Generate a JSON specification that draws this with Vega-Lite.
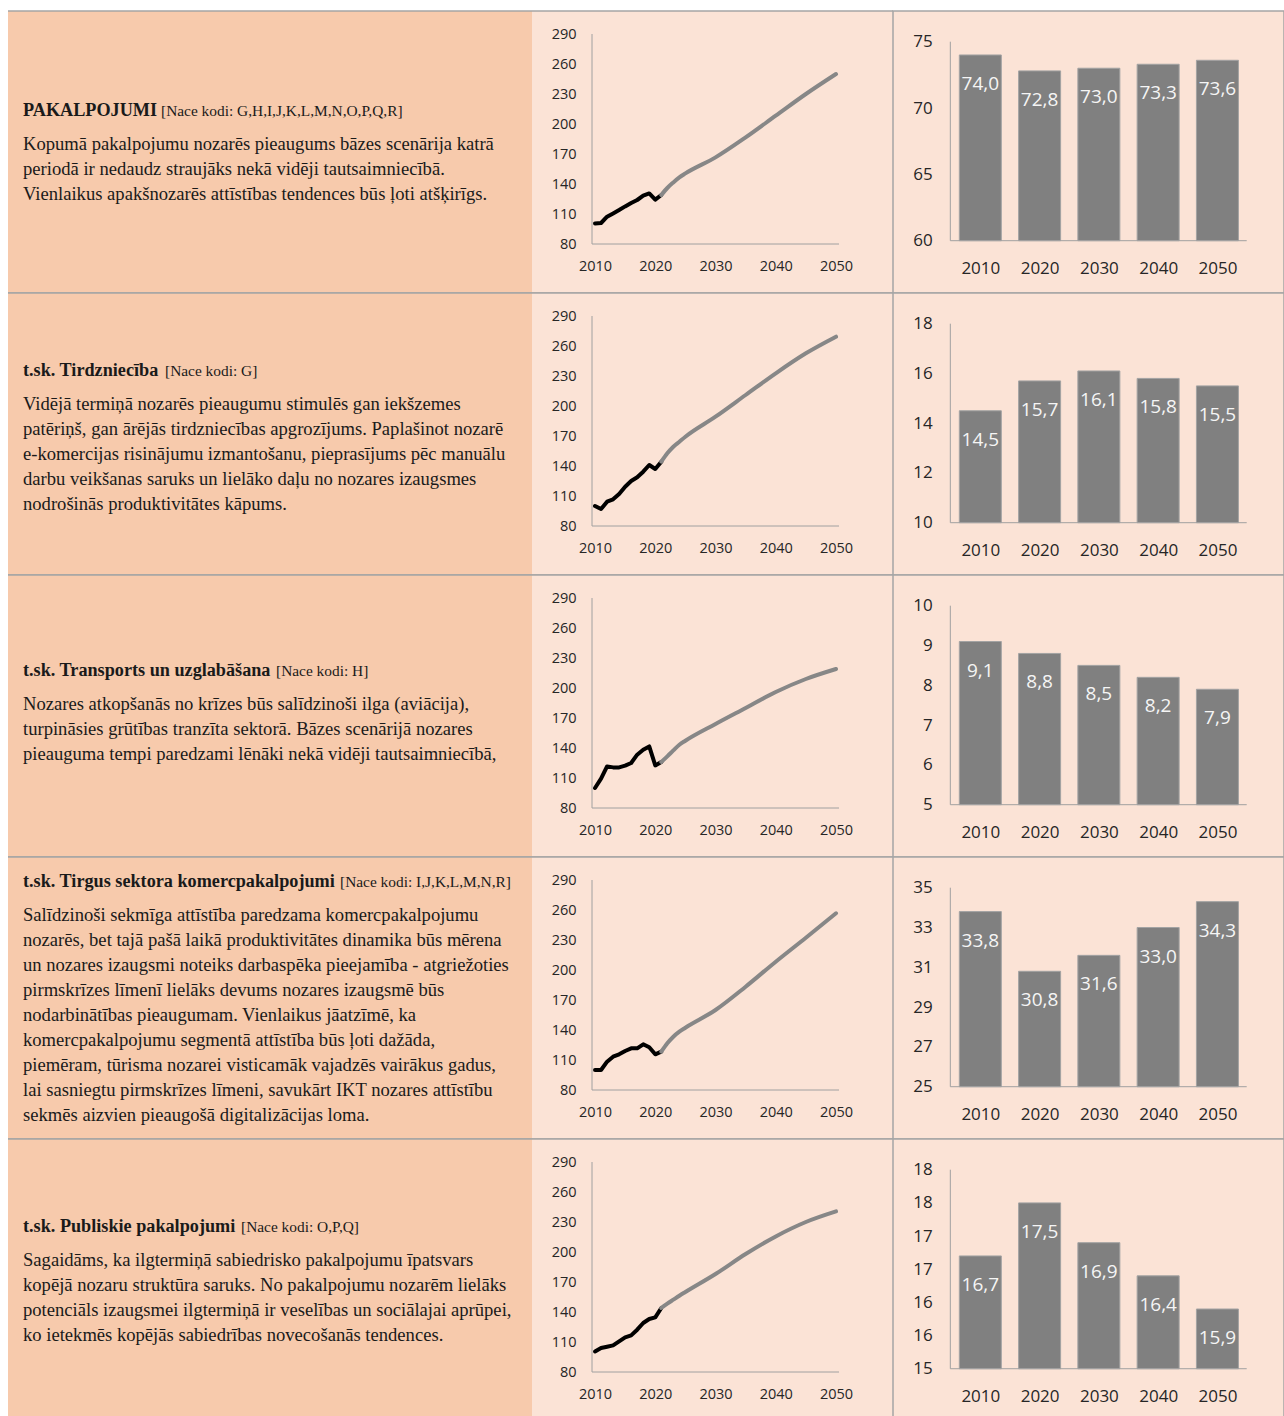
{
  "$schema": "https://vega.github.io/schema/vega-lite/v6.json",
  "padding": {"left": 7, "top": 10, "right": 0, "bottom": 0},
  "background": "white",
  "columns": 3,
  "spacing": 0,
  "bounds": "flush",
  "config": {
    "view": {"stroke": null},
    "concat": {"spacing": 0},
    "locale": {"number": {"decimal": ",", "thousands": "\u00a0", "grouping": [3], "currency": ["", " €"]}},
    "axis": {"labelFont": "Open Sans", "labelColor": "#262626", "grid": false, "domain": false, "ticks": false, "labelFlush": false, "labelOverlap": false}
  },
  "concat": [
    {
      "width": 524, "height": 282, "view": {"fill": "#F7CAAC"},
      "data": {"values": [
        {"line": 0, "part": "bold", "text": "PAKALPOJUMI"},
        {"line": 0, "part": "code", "text": "[Nace kodi: G,H,I,J,K,L,M,N,O,P,Q,R]"},
        {"line": 1, "part": "body", "text": "Kopumā pakalpojumu nozarēs pieaugums bāzes scenārija katrā"},
        {"line": 2, "part": "body", "text": "periodā ir nedaudz straujāks nekā vidēji tautsaimniecībā."},
        {"line": 3, "part": "body", "text": "Vienlaikus apakšnozarēs attīstības tendences būs ļoti atšķirīgs."}
      ]},
      "layer": [
        {"data": {"values": [{}]}, "mark": {"type": "rule", "color": "#A5A5A5", "strokeWidth": 1.5}, "encoding": {"y": {"datum": -4.56, "type": "quantitative", "scale": {"domain": [-4.56, 6.72], "reverse": true, "nice": false, "zero": false}, "axis": null}}},
        {"data": {"values": [{}]}, "mark": {"type": "rule", "color": "#A5A5A5", "strokeWidth": 1.5}, "encoding": {"y": {"datum": 6.72, "type": "quantitative", "axis": null}}},
        {"transform": [{"filter": "datum.part == 'bold'"}], "mark": {"type": "text", "font": "Liberation Serif", "fontWeight": "bold", "fontSize": 18.2, "align": "left", "baseline": "alphabetic", "dy": -9, "color": "#1a1a1a"}, "encoding": {"x": {"datum": 0, "type": "quantitative", "scale": {"domain": [-15, 509], "nice": false, "zero": false}, "axis": null}, "y": {"field": "line", "type": "quantitative", "axis": null}, "text": {"field": "text"}}},
        {"transform": [{"filter": "datum.part == 'code'"}], "mark": {"type": "text", "font": "Liberation Serif", "fontSize": 15.4, "align": "left", "baseline": "alphabetic", "dy": -9, "dx": 138, "color": "#1a1a1a"}, "encoding": {"x": {"datum": 0, "type": "quantitative", "axis": null}, "y": {"field": "line", "type": "quantitative", "axis": null}, "text": {"field": "text"}}},
        {"transform": [{"filter": "datum.part == 'body'"}], "mark": {"type": "text", "font": "Liberation Serif", "fontSize": 18.6, "align": "left", "baseline": "alphabetic", "color": "#1a1a1a"}, "encoding": {"x": {"datum": 0, "type": "quantitative", "axis": null}, "y": {"field": "line", "type": "quantitative", "axis": null}, "text": {"field": "text"}}}
      ]
    },
    {
      "width": 361, "height": 282, "view": {"fill": "#FBE3D6"},
      "data": {"values": [
        {"year": 2010, "value": 100.6, "s": "fakts"}, {"year": 2011, "value": 101, "s": "fakts"}, {"year": 2012, "value": 107.3, "s": "fakts"}, {"year": 2013, "value": 110.6, "s": "fakts"}, {"year": 2014, "value": 114, "s": "fakts"}, {"year": 2015, "value": 117.6, "s": "fakts"}, {"year": 2016, "value": 121, "s": "fakts"}, {"year": 2017, "value": 124, "s": "fakts"}, {"year": 2018, "value": 128.3, "s": "fakts"}, {"year": 2019, "value": 130.6, "s": "fakts"}, {"year": 2020, "value": 124.3, "s": "fakts"}, {"year": 2021, "value": 129, "s": "fakts"},
        {"year": 2021, "value": 129, "s": "prognoze"}, {"year": 2022, "value": 136, "s": "prognoze"}, {"year": 2023, "value": 141.6, "s": "prognoze"}, {"year": 2024, "value": 146.6, "s": "prognoze"}, {"year": 2025, "value": 150.6, "s": "prognoze"}, {"year": 2030, "value": 166.6, "s": "prognoze"}, {"year": 2035, "value": 186.6, "s": "prognoze"}, {"year": 2040, "value": 208.3, "s": "prognoze"}, {"year": 2045, "value": 230, "s": "prognoze"}, {"year": 2050, "value": 250, "s": "prognoze"}
      ]},
      "layer": [
        {"transform": [{"filter": "datum.s == 'fakts'"}], "mark": {"type": "line", "color": "#000000", "strokeWidth": 4, "strokeJoin": "round", "strokeCap": "round"},
         "encoding": {
           "x": {"field": "year", "type": "quantitative", "scale": {"domain": [1999.54, 2059.46], "nice": false, "zero": false, "padding": 0}, "axis": {"values": [2010, 2020, 2030, 2040, 2050], "format": "d", "offset": -49.5, "labelPadding": 15.5, "labelFontSize": 14.5, "title": null}},
           "y": {"field": "value", "type": "quantitative", "scale": {"domain": [31, 313], "nice": false, "zero": false, "padding": 0}, "axis": {"values": [80, 110, 140, 170, 200, 230, 260, 290], "offset": -60, "labelPadding": 16, "labelFontSize": 14.5, "title": null}}
         }},
        {"transform": [{"filter": "datum.s == 'prognoze'"}], "mark": {"type": "line", "color": "#878787", "strokeWidth": 4, "strokeCap": "round", "interpolate": "monotone"},
         "encoding": {"x": {"field": "year", "type": "quantitative"}, "y": {"field": "value", "type": "quantitative"}}},
        {"data": {"values": [{}]}, "mark": {"type": "rule", "color": "#A5A5A5", "strokeWidth": 1.5}, "encoding": {"y": {"datum": 313, "type": "quantitative"}}},
        {"data": {"values": [{}]}, "mark": {"type": "rule", "color": "#A5A5A5", "strokeWidth": 1.5}, "encoding": {"y": {"datum": 31, "type": "quantitative"}}},
        {"data": {"values": [{}]}, "mark": {"type": "rule", "color": "#A0A0A0", "strokeWidth": 1}, "encoding": {"x": {"datum": 2009.5, "type": "quantitative"}, "y": {"datum": 80, "type": "quantitative"}, "y2": {"datum": 290}}},
        {"data": {"values": [{}]}, "mark": {"type": "rule", "color": "#A0A0A0", "strokeWidth": 1}, "encoding": {"y": {"datum": 80, "type": "quantitative"}, "x": {"datum": 2009.5, "type": "quantitative"}, "x2": {"datum": 2050.5}}}
      ]
    },
    {
      "width": 391, "height": 282, "view": {"fill": "#FBE3D6", "stroke": "#A5A5A5", "strokeWidth": 1.5},
      "data": {"values": [{"year": 2010, "value": 74.0}, {"year": 2020, "value": 72.8}, {"year": 2030, "value": 73.0}, {"year": 2040, "value": 73.3}, {"year": 2050, "value": 73.6}]},
      "layer": [
        {"mark": {"type": "bar", "width": 42, "color": "#808080", "stroke": "#A3A3A3", "strokeWidth": 1},
         "encoding": {
           "x": {"field": "year", "type": "quantitative", "scale": {"domain": [1995.27, 2061.23], "nice": false, "zero": false, "padding": 0}, "axis": {"values": [2010, 2020, 2030, 2040, 2050], "format": "d", "offset": -52.3, "labelPadding": 20, "labelFontSize": 17, "title": null}},
           "y": {"field": "value", "type": "quantitative", "scale": {"domain": [56.058, 77.314], "nice": false, "zero": false, "padding": 0}, "axis": {"values": [60, 65, 70, 75], "offset": -57.3, "labelPadding": 18, "labelFontSize": 17, "title": null}},
           "y2": {"datum": 60}
         }},
        {"mark": {"type": "text", "font": "Open Sans", "fontSize": 19, "color": "#F5F5F5", "baseline": "middle", "dy": 29},
         "encoding": {"x": {"field": "year", "type": "quantitative"}, "y": {"field": "value", "type": "quantitative"}, "text": {"field": "value", "type": "quantitative", "format": ".1f"}}},
        {"data": {"values": [{}]}, "mark": {"type": "rule", "color": "#A0A0A0", "strokeWidth": 1}, "encoding": {"x": {"datum": 2004.94, "type": "quantitative"}, "y": {"datum": 60, "type": "quantitative"}, "y2": {"datum": 75}}},
        {"data": {"values": [{}]}, "mark": {"type": "rule", "color": "#A0A0A0", "strokeWidth": 1}, "encoding": {"y": {"datum": 60, "type": "quantitative"}, "x": {"datum": 2004.94, "type": "quantitative"}, "x2": {"datum": 2054.94}}}
      ]
    },
    {
      "width": 524, "height": 282, "view": {"fill": "#F7CAAC"},
      "data": {"values": [
        {"line": 0, "part": "bold", "text": "t.sk. Tirdzniecība"},
        {"line": 0, "part": "code", "text": "[Nace kodi: G]"},
        {"line": 1, "part": "body", "text": "Vidējā termiņā nozarēs pieaugumu stimulēs gan iekšzemes"},
        {"line": 2, "part": "body", "text": "patēriņš, gan ārējās tirdzniecības apgrozījums. Paplašinot nozarē"},
        {"line": 3, "part": "body", "text": "e-komercijas risinājumu izmantošanu, pieprasījums pēc manuālu"},
        {"line": 4, "part": "body", "text": "darbu veikšanas saruks un lielāko daļu no nozares izaugsmes"},
        {"line": 5, "part": "body", "text": "nodrošinās produktivitātes kāpums."}
      ]},
      "layer": [
        {"data": {"values": [{}]}, "mark": {"type": "rule", "color": "#A5A5A5", "strokeWidth": 1.5}, "encoding": {"y": {"datum": -3.68, "type": "quantitative", "scale": {"domain": [-3.68, 7.6], "reverse": true, "nice": false, "zero": false}, "axis": null}}},
        {"data": {"values": [{}]}, "mark": {"type": "rule", "color": "#A5A5A5", "strokeWidth": 1.5}, "encoding": {"y": {"datum": 7.6, "type": "quantitative", "axis": null}}},
        {"transform": [{"filter": "datum.part == 'bold'"}], "mark": {"type": "text", "font": "Liberation Serif", "fontWeight": "bold", "fontSize": 18.2, "align": "left", "baseline": "alphabetic", "dy": -9, "color": "#1a1a1a"}, "encoding": {"x": {"datum": 0, "type": "quantitative", "scale": {"domain": [-15, 509], "nice": false, "zero": false}, "axis": null}, "y": {"field": "line", "type": "quantitative", "axis": null}, "text": {"field": "text"}}},
        {"transform": [{"filter": "datum.part == 'code'"}], "mark": {"type": "text", "font": "Liberation Serif", "fontSize": 15.4, "align": "left", "baseline": "alphabetic", "dy": -9, "dx": 142, "color": "#1a1a1a"}, "encoding": {"x": {"datum": 0, "type": "quantitative", "axis": null}, "y": {"field": "line", "type": "quantitative", "axis": null}, "text": {"field": "text"}}},
        {"transform": [{"filter": "datum.part == 'body'"}], "mark": {"type": "text", "font": "Liberation Serif", "fontSize": 18.6, "align": "left", "baseline": "alphabetic", "color": "#1a1a1a"}, "encoding": {"x": {"datum": 0, "type": "quantitative", "axis": null}, "y": {"field": "line", "type": "quantitative", "axis": null}, "text": {"field": "text"}}}
      ]
    },
    {
      "width": 361, "height": 282, "view": {"fill": "#FBE3D6"},
      "data": {"values": [
        {"year": 2010, "value": 100, "s": "fakts"}, {"year": 2011, "value": 97, "s": "fakts"}, {"year": 2012, "value": 104.3, "s": "fakts"}, {"year": 2013, "value": 106.7, "s": "fakts"}, {"year": 2014, "value": 112, "s": "fakts"}, {"year": 2015, "value": 119.3, "s": "fakts"}, {"year": 2016, "value": 125, "s": "fakts"}, {"year": 2017, "value": 128.7, "s": "fakts"}, {"year": 2018, "value": 134.3, "s": "fakts"}, {"year": 2019, "value": 141, "s": "fakts"}, {"year": 2020, "value": 137, "s": "fakts"}, {"year": 2021, "value": 144.3, "s": "fakts"},
        {"year": 2021, "value": 144.3, "s": "prognoze"}, {"year": 2022, "value": 152.7, "s": "prognoze"}, {"year": 2023, "value": 159.3, "s": "prognoze"}, {"year": 2024, "value": 164.3, "s": "prognoze"}, {"year": 2025, "value": 169.3, "s": "prognoze"}, {"year": 2030, "value": 189.3, "s": "prognoze"}, {"year": 2035, "value": 211, "s": "prognoze"}, {"year": 2040, "value": 232.7, "s": "prognoze"}, {"year": 2045, "value": 252.7, "s": "prognoze"}, {"year": 2050, "value": 269.3, "s": "prognoze"}
      ]},
      "layer": [
        {"transform": [{"filter": "datum.s == 'fakts'"}], "mark": {"type": "line", "color": "#000000", "strokeWidth": 4, "strokeJoin": "round", "strokeCap": "round"},
         "encoding": {
           "x": {"field": "year", "type": "quantitative", "scale": {"domain": [1999.54, 2059.46], "nice": false, "zero": false, "padding": 0}, "axis": {"values": [2010, 2020, 2030, 2040, 2050], "format": "d", "offset": -49.5, "labelPadding": 15.5, "labelFontSize": 14.5, "title": null}},
           "y": {"field": "value", "type": "quantitative", "scale": {"domain": [31, 313], "nice": false, "zero": false, "padding": 0}, "axis": {"values": [80, 110, 140, 170, 200, 230, 260, 290], "offset": -60, "labelPadding": 16, "labelFontSize": 14.5, "title": null}}
         }},
        {"transform": [{"filter": "datum.s == 'prognoze'"}], "mark": {"type": "line", "color": "#878787", "strokeWidth": 4, "strokeCap": "round", "interpolate": "monotone"},
         "encoding": {"x": {"field": "year", "type": "quantitative"}, "y": {"field": "value", "type": "quantitative"}}},
        {"data": {"values": [{}]}, "mark": {"type": "rule", "color": "#A5A5A5", "strokeWidth": 1.5}, "encoding": {"y": {"datum": 313, "type": "quantitative"}}},
        {"data": {"values": [{}]}, "mark": {"type": "rule", "color": "#A5A5A5", "strokeWidth": 1.5}, "encoding": {"y": {"datum": 31, "type": "quantitative"}}},
        {"data": {"values": [{}]}, "mark": {"type": "rule", "color": "#A0A0A0", "strokeWidth": 1}, "encoding": {"x": {"datum": 2009.5, "type": "quantitative"}, "y": {"datum": 80, "type": "quantitative"}, "y2": {"datum": 290}}},
        {"data": {"values": [{}]}, "mark": {"type": "rule", "color": "#A0A0A0", "strokeWidth": 1}, "encoding": {"y": {"datum": 80, "type": "quantitative"}, "x": {"datum": 2009.5, "type": "quantitative"}, "x2": {"datum": 2050.5}}}
      ]
    },
    {
      "width": 391, "height": 282, "view": {"fill": "#FBE3D6", "stroke": "#A5A5A5", "strokeWidth": 1.5},
      "data": {"values": [{"year": 2010, "value": 14.5}, {"year": 2020, "value": 15.7}, {"year": 2030, "value": 16.1}, {"year": 2040, "value": 15.8}, {"year": 2050, "value": 15.5}]},
      "layer": [
        {"mark": {"type": "bar", "width": 42, "color": "#808080", "stroke": "#A3A3A3", "strokeWidth": 1},
         "encoding": {
           "x": {"field": "year", "type": "quantitative", "scale": {"domain": [1995.27, 2061.23], "nice": false, "zero": false, "padding": 0}, "axis": {"values": [2010, 2020, 2030, 2040, 2050], "format": "d", "offset": -52.3, "labelPadding": 20, "labelFontSize": 17, "title": null}},
           "y": {"field": "value", "type": "quantitative", "scale": {"domain": [7.897, 19.234], "nice": false, "zero": false, "padding": 0}, "axis": {"values": [10, 12, 14, 16, 18], "offset": -57.3, "labelPadding": 18, "labelFontSize": 17, "title": null}},
           "y2": {"datum": 10}
         }},
        {"mark": {"type": "text", "font": "Open Sans", "fontSize": 19, "color": "#F5F5F5", "baseline": "middle", "dy": 29},
         "encoding": {"x": {"field": "year", "type": "quantitative"}, "y": {"field": "value", "type": "quantitative"}, "text": {"field": "value", "type": "quantitative", "format": ".1f"}}},
        {"data": {"values": [{}]}, "mark": {"type": "rule", "color": "#A0A0A0", "strokeWidth": 1}, "encoding": {"x": {"datum": 2004.94, "type": "quantitative"}, "y": {"datum": 10, "type": "quantitative"}, "y2": {"datum": 18}}},
        {"data": {"values": [{}]}, "mark": {"type": "rule", "color": "#A0A0A0", "strokeWidth": 1}, "encoding": {"y": {"datum": 10, "type": "quantitative"}, "x": {"datum": 2004.94, "type": "quantitative"}, "x2": {"datum": 2054.94}}}
      ]
    },
    {
      "width": 524, "height": 282, "view": {"fill": "#F7CAAC"},
      "data": {"values": [
        {"line": 0, "part": "bold", "text": "t.sk. Transports un uzglabāšana"},
        {"line": 0, "part": "code", "text": "[Nace kodi: H]"},
        {"line": 1, "part": "body", "text": "Nozares atkopšanās no krīzes būs salīdzinoši ilga (aviācija),"},
        {"line": 2, "part": "body", "text": "turpināsies grūtības tranzīta sektorā. Bāzes scenārijā nozares"},
        {"line": 3, "part": "body", "text": "pieauguma tempi paredzami lēnāki nekā vidēji tautsaimniecībā,"}
      ]},
      "layer": [
        {"data": {"values": [{}]}, "mark": {"type": "rule", "color": "#A5A5A5", "strokeWidth": 1.5}, "encoding": {"y": {"datum": -4.412, "type": "quantitative", "scale": {"domain": [-4.412, 6.868], "reverse": true, "nice": false, "zero": false}, "axis": null}}},
        {"data": {"values": [{}]}, "mark": {"type": "rule", "color": "#A5A5A5", "strokeWidth": 1.5}, "encoding": {"y": {"datum": 6.868, "type": "quantitative", "axis": null}}},
        {"transform": [{"filter": "datum.part == 'bold'"}], "mark": {"type": "text", "font": "Liberation Serif", "fontWeight": "bold", "fontSize": 18.2, "align": "left", "baseline": "alphabetic", "dy": -9, "color": "#1a1a1a"}, "encoding": {"x": {"datum": 0, "type": "quantitative", "scale": {"domain": [-15, 509], "nice": false, "zero": false}, "axis": null}, "y": {"field": "line", "type": "quantitative", "axis": null}, "text": {"field": "text"}}},
        {"transform": [{"filter": "datum.part == 'code'"}], "mark": {"type": "text", "font": "Liberation Serif", "fontSize": 15.4, "align": "left", "baseline": "alphabetic", "dy": -9, "dx": 253, "color": "#1a1a1a"}, "encoding": {"x": {"datum": 0, "type": "quantitative", "axis": null}, "y": {"field": "line", "type": "quantitative", "axis": null}, "text": {"field": "text"}}},
        {"transform": [{"filter": "datum.part == 'body'"}], "mark": {"type": "text", "font": "Liberation Serif", "fontSize": 18.6, "align": "left", "baseline": "alphabetic", "color": "#1a1a1a"}, "encoding": {"x": {"datum": 0, "type": "quantitative", "axis": null}, "y": {"field": "line", "type": "quantitative", "axis": null}, "text": {"field": "text"}}}
      ]
    },
    {
      "width": 361, "height": 282, "view": {"fill": "#FBE3D6"},
      "data": {"values": [
        {"year": 2010, "value": 100, "s": "fakts"}, {"year": 2011, "value": 109.3, "s": "fakts"}, {"year": 2012, "value": 121.6, "s": "fakts"}, {"year": 2013, "value": 120.6, "s": "fakts"}, {"year": 2014, "value": 120.6, "s": "fakts"}, {"year": 2015, "value": 122.3, "s": "fakts"}, {"year": 2016, "value": 125, "s": "fakts"}, {"year": 2017, "value": 133.3, "s": "fakts"}, {"year": 2018, "value": 138.3, "s": "fakts"}, {"year": 2019, "value": 141.6, "s": "fakts"}, {"year": 2020, "value": 122.6, "s": "fakts"}, {"year": 2021, "value": 126, "s": "fakts"},
        {"year": 2021, "value": 126, "s": "prognoze"}, {"year": 2022, "value": 131.6, "s": "prognoze"}, {"year": 2023, "value": 137.6, "s": "prognoze"}, {"year": 2024, "value": 143.3, "s": "prognoze"}, {"year": 2025, "value": 147.3, "s": "prognoze"}, {"year": 2030, "value": 164, "s": "prognoze"}, {"year": 2035, "value": 180, "s": "prognoze"}, {"year": 2040, "value": 196, "s": "prognoze"}, {"year": 2045, "value": 209, "s": "prognoze"}, {"year": 2050, "value": 219, "s": "prognoze"}
      ]},
      "layer": [
        {"transform": [{"filter": "datum.s == 'fakts'"}], "mark": {"type": "line", "color": "#000000", "strokeWidth": 4, "strokeJoin": "round", "strokeCap": "round"},
         "encoding": {
           "x": {"field": "year", "type": "quantitative", "scale": {"domain": [1999.54, 2059.46], "nice": false, "zero": false, "padding": 0}, "axis": {"values": [2010, 2020, 2030, 2040, 2050], "format": "d", "offset": -49.5, "labelPadding": 15.5, "labelFontSize": 14.5, "title": null}},
           "y": {"field": "value", "type": "quantitative", "scale": {"domain": [31, 313], "nice": false, "zero": false, "padding": 0}, "axis": {"values": [80, 110, 140, 170, 200, 230, 260, 290], "offset": -60, "labelPadding": 16, "labelFontSize": 14.5, "title": null}}
         }},
        {"transform": [{"filter": "datum.s == 'prognoze'"}], "mark": {"type": "line", "color": "#878787", "strokeWidth": 4, "strokeCap": "round", "interpolate": "monotone"},
         "encoding": {"x": {"field": "year", "type": "quantitative"}, "y": {"field": "value", "type": "quantitative"}}},
        {"data": {"values": [{}]}, "mark": {"type": "rule", "color": "#A5A5A5", "strokeWidth": 1.5}, "encoding": {"y": {"datum": 313, "type": "quantitative"}}},
        {"data": {"values": [{}]}, "mark": {"type": "rule", "color": "#A5A5A5", "strokeWidth": 1.5}, "encoding": {"y": {"datum": 31, "type": "quantitative"}}},
        {"data": {"values": [{}]}, "mark": {"type": "rule", "color": "#A0A0A0", "strokeWidth": 1}, "encoding": {"x": {"datum": 2009.5, "type": "quantitative"}, "y": {"datum": 80, "type": "quantitative"}, "y2": {"datum": 290}}},
        {"data": {"values": [{}]}, "mark": {"type": "rule", "color": "#A0A0A0", "strokeWidth": 1}, "encoding": {"y": {"datum": 80, "type": "quantitative"}, "x": {"datum": 2009.5, "type": "quantitative"}, "x2": {"datum": 2050.5}}}
      ]
    },
    {
      "width": 391, "height": 282, "view": {"fill": "#FBE3D6", "stroke": "#A5A5A5", "strokeWidth": 1.5},
      "data": {"values": [{"year": 2010, "value": 9.1}, {"year": 2020, "value": 8.8}, {"year": 2030, "value": 8.5}, {"year": 2040, "value": 8.2}, {"year": 2050, "value": 7.9}]},
      "layer": [
        {"mark": {"type": "bar", "width": 42, "color": "#808080", "stroke": "#A3A3A3", "strokeWidth": 1},
         "encoding": {
           "x": {"field": "year", "type": "quantitative", "scale": {"domain": [1995.27, 2061.23], "nice": false, "zero": false, "padding": 0}, "axis": {"values": [2010, 2020, 2030, 2040, 2050], "format": "d", "offset": -52.3, "labelPadding": 20, "labelFontSize": 17, "title": null}},
           "y": {"field": "value", "type": "quantitative", "scale": {"domain": [3.686, 10.771], "nice": false, "zero": false, "padding": 0}, "axis": {"values": [5, 6, 7, 8, 9, 10], "offset": -57.3, "labelPadding": 18, "labelFontSize": 17, "title": null}},
           "y2": {"datum": 5}
         }},
        {"mark": {"type": "text", "font": "Open Sans", "fontSize": 19, "color": "#F5F5F5", "baseline": "middle", "dy": 29},
         "encoding": {"x": {"field": "year", "type": "quantitative"}, "y": {"field": "value", "type": "quantitative"}, "text": {"field": "value", "type": "quantitative", "format": ".1f"}}},
        {"data": {"values": [{}]}, "mark": {"type": "rule", "color": "#A0A0A0", "strokeWidth": 1}, "encoding": {"x": {"datum": 2004.94, "type": "quantitative"}, "y": {"datum": 5, "type": "quantitative"}, "y2": {"datum": 10}}},
        {"data": {"values": [{}]}, "mark": {"type": "rule", "color": "#A0A0A0", "strokeWidth": 1}, "encoding": {"y": {"datum": 5, "type": "quantitative"}, "x": {"datum": 2004.94, "type": "quantitative"}, "x2": {"datum": 2054.94}}}
      ]
    },
    {
      "width": 524, "height": 282, "view": {"fill": "#F7CAAC"},
      "data": {"values": [
        {"line": 0, "part": "bold", "text": "t.sk. Tirgus sektora komercpakalpojumi"},
        {"line": 0, "part": "code", "text": "[Nace kodi: I,J,K,L,M,N,R]"},
        {"line": 1, "part": "body", "text": "Salīdzinoši sekmīga attīstība paredzama komercpakalpojumu"},
        {"line": 2, "part": "body", "text": "nozarēs, bet tajā pašā laikā produktivitātes dinamika būs mērena"},
        {"line": 3, "part": "body", "text": "un nozares izaugsmi noteiks darbaspēka pieejamība - atgriežoties"},
        {"line": 4, "part": "body", "text": "pirmskrīzes līmenī lielāks devums nozares izaugsmē būs"},
        {"line": 5, "part": "body", "text": "nodarbinātības pieaugumam. Vienlaikus jāatzīmē, ka"},
        {"line": 6, "part": "body", "text": "komercpakalpojumu segmentā attīstība būs ļoti dažāda,"},
        {"line": 7, "part": "body", "text": "piemēram, tūrisma nozarei visticamāk vajadzēs vairākus  gadus,"},
        {"line": 8, "part": "body", "text": "lai sasniegtu pirmskrīzes līmeni, savukārt IKT nozares attīstību"},
        {"line": 9, "part": "body", "text": "sekmēs aizvien pieaugošā digitalizācijas loma."}
      ]},
      "layer": [
        {"data": {"values": [{}]}, "mark": {"type": "rule", "color": "#A5A5A5", "strokeWidth": 1.5}, "encoding": {"y": {"datum": -1.56, "type": "quantitative", "scale": {"domain": [-1.56, 9.72], "reverse": true, "nice": false, "zero": false}, "axis": null}}},
        {"data": {"values": [{}]}, "mark": {"type": "rule", "color": "#A5A5A5", "strokeWidth": 1.5}, "encoding": {"y": {"datum": 9.72, "type": "quantitative", "axis": null}}},
        {"transform": [{"filter": "datum.part == 'bold'"}], "mark": {"type": "text", "font": "Liberation Serif", "fontWeight": "bold", "fontSize": 18.2, "align": "left", "baseline": "alphabetic", "dy": -9, "color": "#1a1a1a"}, "encoding": {"x": {"datum": 0, "type": "quantitative", "scale": {"domain": [-15, 509], "nice": false, "zero": false}, "axis": null}, "y": {"field": "line", "type": "quantitative", "axis": null}, "text": {"field": "text"}}},
        {"transform": [{"filter": "datum.part == 'code'"}], "mark": {"type": "text", "font": "Liberation Serif", "fontSize": 15.4, "align": "left", "baseline": "alphabetic", "dy": -9, "dx": 317, "color": "#1a1a1a"}, "encoding": {"x": {"datum": 0, "type": "quantitative", "axis": null}, "y": {"field": "line", "type": "quantitative", "axis": null}, "text": {"field": "text"}}},
        {"transform": [{"filter": "datum.part == 'body'"}], "mark": {"type": "text", "font": "Liberation Serif", "fontSize": 18.6, "align": "left", "baseline": "alphabetic", "color": "#1a1a1a"}, "encoding": {"x": {"datum": 0, "type": "quantitative", "axis": null}, "y": {"field": "line", "type": "quantitative", "axis": null}, "text": {"field": "text"}}}
      ]
    },
    {
      "width": 361, "height": 282, "view": {"fill": "#FBE3D6"},
      "data": {"values": [
        {"year": 2010, "value": 100, "s": "fakts"}, {"year": 2011, "value": 100, "s": "fakts"}, {"year": 2012, "value": 108.3, "s": "fakts"}, {"year": 2013, "value": 113.3, "s": "fakts"}, {"year": 2014, "value": 115.7, "s": "fakts"}, {"year": 2015, "value": 119, "s": "fakts"}, {"year": 2016, "value": 121.7, "s": "fakts"}, {"year": 2017, "value": 121.7, "s": "fakts"}, {"year": 2018, "value": 125.7, "s": "fakts"}, {"year": 2019, "value": 122.7, "s": "fakts"}, {"year": 2020, "value": 115.7, "s": "fakts"}, {"year": 2021, "value": 118.3, "s": "fakts"},
        {"year": 2021, "value": 118.3, "s": "prognoze"}, {"year": 2022, "value": 126.7, "s": "prognoze"}, {"year": 2023, "value": 133.3, "s": "prognoze"}, {"year": 2024, "value": 138.3, "s": "prognoze"}, {"year": 2025, "value": 142.3, "s": "prognoze"}, {"year": 2030, "value": 160, "s": "prognoze"}, {"year": 2035, "value": 183.3, "s": "prognoze"}, {"year": 2040, "value": 208.3, "s": "prognoze"}, {"year": 2045, "value": 232.3, "s": "prognoze"}, {"year": 2050, "value": 256.7, "s": "prognoze"}
      ]},
      "layer": [
        {"transform": [{"filter": "datum.s == 'fakts'"}], "mark": {"type": "line", "color": "#000000", "strokeWidth": 4, "strokeJoin": "round", "strokeCap": "round"},
         "encoding": {
           "x": {"field": "year", "type": "quantitative", "scale": {"domain": [1999.54, 2059.46], "nice": false, "zero": false, "padding": 0}, "axis": {"values": [2010, 2020, 2030, 2040, 2050], "format": "d", "offset": -49.5, "labelPadding": 15.5, "labelFontSize": 14.5, "title": null}},
           "y": {"field": "value", "type": "quantitative", "scale": {"domain": [31, 313], "nice": false, "zero": false, "padding": 0}, "axis": {"values": [80, 110, 140, 170, 200, 230, 260, 290], "offset": -60, "labelPadding": 16, "labelFontSize": 14.5, "title": null}}
         }},
        {"transform": [{"filter": "datum.s == 'prognoze'"}], "mark": {"type": "line", "color": "#878787", "strokeWidth": 4, "strokeCap": "round", "interpolate": "monotone"},
         "encoding": {"x": {"field": "year", "type": "quantitative"}, "y": {"field": "value", "type": "quantitative"}}},
        {"data": {"values": [{}]}, "mark": {"type": "rule", "color": "#A5A5A5", "strokeWidth": 1.5}, "encoding": {"y": {"datum": 313, "type": "quantitative"}}},
        {"data": {"values": [{}]}, "mark": {"type": "rule", "color": "#A5A5A5", "strokeWidth": 1.5}, "encoding": {"y": {"datum": 31, "type": "quantitative"}}},
        {"data": {"values": [{}]}, "mark": {"type": "rule", "color": "#A0A0A0", "strokeWidth": 1}, "encoding": {"x": {"datum": 2009.5, "type": "quantitative"}, "y": {"datum": 80, "type": "quantitative"}, "y2": {"datum": 290}}},
        {"data": {"values": [{}]}, "mark": {"type": "rule", "color": "#A0A0A0", "strokeWidth": 1}, "encoding": {"y": {"datum": 80, "type": "quantitative"}, "x": {"datum": 2009.5, "type": "quantitative"}, "x2": {"datum": 2050.5}}}
      ]
    },
    {
      "width": 391, "height": 282, "view": {"fill": "#FBE3D6", "stroke": "#A5A5A5", "strokeWidth": 1.5},
      "data": {"values": [{"year": 2010, "value": 33.8}, {"year": 2020, "value": 30.8}, {"year": 2030, "value": 31.6}, {"year": 2040, "value": 33.0}, {"year": 2050, "value": 34.3}]},
      "layer": [
        {"mark": {"type": "bar", "width": 42, "color": "#808080", "stroke": "#A3A3A3", "strokeWidth": 1},
         "encoding": {
           "x": {"field": "year", "type": "quantitative", "scale": {"domain": [1995.27, 2061.23], "nice": false, "zero": false, "padding": 0}, "axis": {"values": [2010, 2020, 2030, 2040, 2050], "format": "d", "offset": -52.3, "labelPadding": 20, "labelFontSize": 17, "title": null}},
           "y": {"field": "value", "type": "quantitative", "scale": {"domain": [22.372, 36.543], "nice": false, "zero": false, "padding": 0}, "axis": {"values": [25, 27, 29, 31, 33, 35], "offset": -57.3, "labelPadding": 18, "labelFontSize": 17, "title": null}},
           "y2": {"datum": 25}
         }},
        {"mark": {"type": "text", "font": "Open Sans", "fontSize": 19, "color": "#F5F5F5", "baseline": "middle", "dy": 29},
         "encoding": {"x": {"field": "year", "type": "quantitative"}, "y": {"field": "value", "type": "quantitative"}, "text": {"field": "value", "type": "quantitative", "format": ".1f"}}},
        {"data": {"values": [{}]}, "mark": {"type": "rule", "color": "#A0A0A0", "strokeWidth": 1}, "encoding": {"x": {"datum": 2004.94, "type": "quantitative"}, "y": {"datum": 25, "type": "quantitative"}, "y2": {"datum": 35}}},
        {"data": {"values": [{}]}, "mark": {"type": "rule", "color": "#A0A0A0", "strokeWidth": 1}, "encoding": {"y": {"datum": 25, "type": "quantitative"}, "x": {"datum": 2004.94, "type": "quantitative"}, "x2": {"datum": 2054.94}}}
      ]
    },
    {
      "width": 524, "height": 282, "view": {"fill": "#F7CAAC"},
      "data": {"values": [
        {"line": 0, "part": "bold", "text": "t.sk. Publiskie pakalpojumi"},
        {"line": 0, "part": "code", "text": "[Nace kodi: O,P,Q]"},
        {"line": 1, "part": "body", "text": "Sagaidāms, ka ilgtermiņā sabiedrisko pakalpojumu īpatsvars"},
        {"line": 2, "part": "body", "text": "kopējā nozaru struktūra saruks. No pakalpojumu nozarēm lielāks"},
        {"line": 3, "part": "body", "text": "potenciāls izaugsmei ilgtermiņā ir veselības un sociālajai aprūpei,"},
        {"line": 4, "part": "body", "text": "ko ietekmēs kopējās sabiedrības novecošanās tendences."}
      ]},
      "layer": [
        {"data": {"values": [{}]}, "mark": {"type": "rule", "color": "#A5A5A5", "strokeWidth": 1.5}, "encoding": {"y": {"datum": -4.08, "type": "quantitative", "scale": {"domain": [-4.08, 7.2], "reverse": true, "nice": false, "zero": false}, "axis": null}}},
        {"data": {"values": [{}]}, "mark": {"type": "rule", "color": "#A5A5A5", "strokeWidth": 1.5}, "encoding": {"y": {"datum": 7.2, "type": "quantitative", "axis": null}}},
        {"transform": [{"filter": "datum.part == 'bold'"}], "mark": {"type": "text", "font": "Liberation Serif", "fontWeight": "bold", "fontSize": 18.2, "align": "left", "baseline": "alphabetic", "dy": -9, "color": "#1a1a1a"}, "encoding": {"x": {"datum": 0, "type": "quantitative", "scale": {"domain": [-15, 509], "nice": false, "zero": false}, "axis": null}, "y": {"field": "line", "type": "quantitative", "axis": null}, "text": {"field": "text"}}},
        {"transform": [{"filter": "datum.part == 'code'"}], "mark": {"type": "text", "font": "Liberation Serif", "fontSize": 15.4, "align": "left", "baseline": "alphabetic", "dy": -9, "dx": 218, "color": "#1a1a1a"}, "encoding": {"x": {"datum": 0, "type": "quantitative", "axis": null}, "y": {"field": "line", "type": "quantitative", "axis": null}, "text": {"field": "text"}}},
        {"transform": [{"filter": "datum.part == 'body'"}], "mark": {"type": "text", "font": "Liberation Serif", "fontSize": 18.6, "align": "left", "baseline": "alphabetic", "color": "#1a1a1a"}, "encoding": {"x": {"datum": 0, "type": "quantitative", "axis": null}, "y": {"field": "line", "type": "quantitative", "axis": null}, "text": {"field": "text"}}}
      ]
    },
    {
      "width": 361, "height": 282, "view": {"fill": "#FBE3D6"},
      "data": {"values": [
        {"year": 2010, "value": 100.6, "s": "fakts"}, {"year": 2011, "value": 104, "s": "fakts"}, {"year": 2012, "value": 105.3, "s": "fakts"}, {"year": 2013, "value": 106.6, "s": "fakts"}, {"year": 2014, "value": 110.6, "s": "fakts"}, {"year": 2015, "value": 114.6, "s": "fakts"}, {"year": 2016, "value": 116.6, "s": "fakts"}, {"year": 2017, "value": 122.3, "s": "fakts"}, {"year": 2018, "value": 129, "s": "fakts"}, {"year": 2019, "value": 133, "s": "fakts"}, {"year": 2020, "value": 134.6, "s": "fakts"}, {"year": 2021, "value": 144, "s": "fakts"},
        {"year": 2021, "value": 144, "s": "prognoze"}, {"year": 2022, "value": 148.3, "s": "prognoze"}, {"year": 2023, "value": 152.3, "s": "prognoze"}, {"year": 2024, "value": 156.3, "s": "prognoze"}, {"year": 2025, "value": 160, "s": "prognoze"}, {"year": 2030, "value": 178, "s": "prognoze"}, {"year": 2035, "value": 198, "s": "prognoze"}, {"year": 2040, "value": 215.6, "s": "prognoze"}, {"year": 2045, "value": 230, "s": "prognoze"}, {"year": 2050, "value": 240.6, "s": "prognoze"}
      ]},
      "layer": [
        {"transform": [{"filter": "datum.s == 'fakts'"}], "mark": {"type": "line", "color": "#000000", "strokeWidth": 4, "strokeJoin": "round", "strokeCap": "round"},
         "encoding": {
           "x": {"field": "year", "type": "quantitative", "scale": {"domain": [1999.54, 2059.46], "nice": false, "zero": false, "padding": 0}, "axis": {"values": [2010, 2020, 2030, 2040, 2050], "format": "d", "offset": -49.5, "labelPadding": 15.5, "labelFontSize": 14.5, "title": null}},
           "y": {"field": "value", "type": "quantitative", "scale": {"domain": [31, 313], "nice": false, "zero": false, "padding": 0}, "axis": {"values": [80, 110, 140, 170, 200, 230, 260, 290], "offset": -60, "labelPadding": 16, "labelFontSize": 14.5, "title": null}}
         }},
        {"transform": [{"filter": "datum.s == 'prognoze'"}], "mark": {"type": "line", "color": "#878787", "strokeWidth": 4, "strokeCap": "round", "interpolate": "monotone"},
         "encoding": {"x": {"field": "year", "type": "quantitative"}, "y": {"field": "value", "type": "quantitative"}}},
        {"data": {"values": [{}]}, "mark": {"type": "rule", "color": "#A5A5A5", "strokeWidth": 1.5}, "encoding": {"y": {"datum": 313, "type": "quantitative"}}},
        {"data": {"values": [{}]}, "mark": {"type": "rule", "color": "#A5A5A5", "strokeWidth": 1.5}, "encoding": {"y": {"datum": 31, "type": "quantitative"}}},
        {"data": {"values": [{}]}, "mark": {"type": "rule", "color": "#A0A0A0", "strokeWidth": 1}, "encoding": {"x": {"datum": 2009.5, "type": "quantitative"}, "y": {"datum": 80, "type": "quantitative"}, "y2": {"datum": 290}}},
        {"data": {"values": [{}]}, "mark": {"type": "rule", "color": "#A0A0A0", "strokeWidth": 1}, "encoding": {"y": {"datum": 80, "type": "quantitative"}, "x": {"datum": 2009.5, "type": "quantitative"}, "x2": {"datum": 2050.5}}}
      ]
    },
    {
      "width": 391, "height": 282, "view": {"fill": "#FBE3D6", "stroke": "#A5A5A5", "strokeWidth": 1.5},
      "data": {"values": [{"year": 2010, "value": 16.7}, {"year": 2020, "value": 17.5}, {"year": 2030, "value": 16.9}, {"year": 2040, "value": 16.4}, {"year": 2050, "value": 15.9}]},
      "layer": [
        {"mark": {"type": "bar", "width": 42, "color": "#808080", "stroke": "#A3A3A3", "strokeWidth": 1},
         "encoding": {
           "x": {"field": "year", "type": "quantitative", "scale": {"domain": [1995.27, 2061.23], "nice": false, "zero": false, "padding": 0}, "axis": {"values": [2010, 2020, 2030, 2040, 2050], "format": "d", "offset": -52.3, "labelPadding": 20, "labelFontSize": 17, "title": null}},
           "y": {"field": "value", "type": "quantitative", "scale": {"domain": [14.212, 18.463], "nice": false, "zero": false, "padding": 0}, "axis": {"values": [15, 15.5, 16, 16.5, 17, 17.5, 18], "format": ".0f", "offset": -57.3, "labelPadding": 18, "labelFontSize": 17, "title": null}},
           "y2": {"datum": 15}
         }},
        {"mark": {"type": "text", "font": "Open Sans", "fontSize": 19, "color": "#F5F5F5", "baseline": "middle", "dy": 29},
         "encoding": {"x": {"field": "year", "type": "quantitative"}, "y": {"field": "value", "type": "quantitative"}, "text": {"field": "value", "type": "quantitative", "format": ".1f"}}},
        {"data": {"values": [{}]}, "mark": {"type": "rule", "color": "#A0A0A0", "strokeWidth": 1}, "encoding": {"x": {"datum": 2004.94, "type": "quantitative"}, "y": {"datum": 15, "type": "quantitative"}, "y2": {"datum": 18}}},
        {"data": {"values": [{}]}, "mark": {"type": "rule", "color": "#A0A0A0", "strokeWidth": 1}, "encoding": {"y": {"datum": 15, "type": "quantitative"}, "x": {"datum": 2004.94, "type": "quantitative"}, "x2": {"datum": 2054.94}}}
      ]
    }
  ]
}
